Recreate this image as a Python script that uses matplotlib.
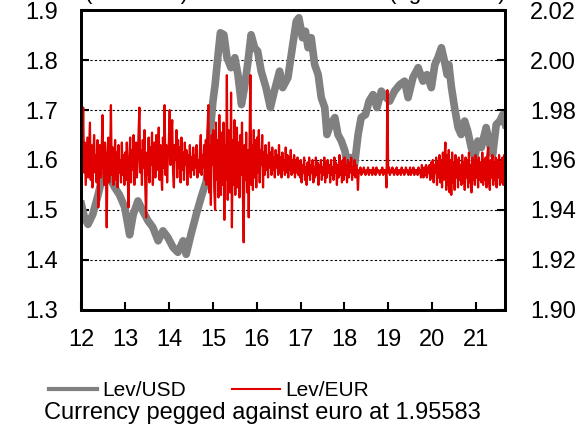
import pandas as pd
import matplotlib
matplotlib.use("Agg")
import matplotlib.pyplot as plt
from matplotlib.lines import Line2D

plt.rcParams["font.family"] = ["Liberation Sans", "DejaVu Sans"]

# Lev/USD (decimal year, rate) -> left scale
usd_year = [12.00, 12.07, 12.15, 12.26, 12.38, 12.49, 12.64, 12.76, 12.87, 12.99,
            13.10, 13.18, 13.29, 13.40, 13.52, 13.63, 13.75, 13.86, 13.97, 14.09,
            14.20, 14.32, 14.39, 14.50, 14.62, 14.73, 14.85, 14.92, 15.00, 15.05,
            15.11, 15.17, 15.25, 15.32, 15.41, 15.50, 15.57, 15.65, 15.72, 15.80,
            15.87, 15.95, 16.02, 16.10, 16.21, 16.31, 16.40, 16.52, 16.59, 16.71,
            16.82, 16.90, 16.96, 17.04, 17.11, 17.17, 17.24, 17.32, 17.40, 17.47,
            17.55, 17.60, 17.68, 17.78, 17.85, 17.93, 18.01, 18.06, 18.13, 18.23,
            18.31, 18.38, 18.48, 18.56, 18.65, 18.74, 18.84, 18.95, 19.03, 19.14,
            19.26, 19.37, 19.45, 19.56, 19.68, 19.79, 19.88, 19.98, 20.06, 20.13,
            20.21, 20.28, 20.34, 20.38, 20.44, 20.51, 20.59, 20.66, 20.74, 20.81,
            20.89, 20.97, 21.04, 21.12, 21.23, 21.31, 21.38, 21.46, 21.54, 21.61,
            21.67]
usd_rate = [1.511, 1.485, 1.471, 1.491, 1.530, 1.570, 1.565, 1.545, 1.530, 1.505,
            1.450, 1.490, 1.518, 1.498, 1.478, 1.465, 1.438, 1.458, 1.445, 1.425,
            1.415, 1.438, 1.411, 1.451, 1.491, 1.525, 1.558, 1.638, 1.718, 1.751,
            1.805, 1.855, 1.851, 1.805, 1.785, 1.805, 1.771, 1.711, 1.745, 1.798,
            1.851, 1.825, 1.818, 1.778, 1.745, 1.705, 1.738, 1.778, 1.745, 1.765,
            1.831, 1.878, 1.885, 1.845, 1.858, 1.825, 1.845, 1.791, 1.771, 1.725,
            1.705, 1.651, 1.671, 1.685, 1.651, 1.638, 1.618, 1.591, 1.605, 1.591,
            1.651, 1.685, 1.691, 1.718, 1.731, 1.705, 1.738, 1.725, 1.718, 1.738,
            1.751, 1.758, 1.725, 1.765, 1.785, 1.758, 1.771, 1.745, 1.791, 1.805,
            1.825, 1.798, 1.771, 1.791, 1.745, 1.705, 1.665, 1.651, 1.678, 1.658,
            1.625, 1.605, 1.638, 1.625, 1.665, 1.631, 1.611, 1.671, 1.678, 1.691,
            1.671]

# Lev/EUR, weekly from the first week of 2012 -> right scale
eur_start = "2012-01-02"
eur_rate = [
    # 2012
    1.951, 1.963, 1.981, 1.955, 1.967, 1.950, 1.960, 1.969, 1.953, 1.964, 1.975, 1.952,
    1.966, 1.949, 1.961, 1.970, 1.955, 1.962, 1.951, 1.968, 1.941, 1.958, 1.966, 1.953,
    1.964, 1.978, 1.956, 1.950, 1.967, 1.958, 1.933, 1.962, 1.969, 1.951, 1.960, 1.982,
    1.954, 1.965, 1.950, 1.961, 1.968, 1.952, 1.963, 1.949, 1.966, 1.955, 1.960, 1.951,
    1.967, 1.954, 1.962, 1.950,
    # 2013
    1.963, 1.952, 1.967, 1.955, 1.941, 1.960, 1.969, 1.951, 1.964, 1.956, 1.970, 1.950,
    1.962, 1.967, 1.953, 1.959, 1.971, 1.981, 1.955, 1.964, 1.950, 1.968, 1.957, 1.972,
    1.949, 1.937, 1.963, 1.954, 1.969, 1.951, 1.965, 1.958, 1.971, 1.950, 1.962, 1.967,
    1.953, 1.970, 1.956, 1.961, 1.973, 1.952, 1.966, 1.955, 1.948, 1.969, 1.957, 1.982,
    1.954, 1.966, 1.951, 1.963,
    # 2014
    1.967, 1.980, 1.958, 1.970, 1.976, 1.955, 1.949, 1.966, 1.960, 1.972, 1.953, 1.968,
    1.957, 1.965, 1.951, 1.969, 1.956, 1.963, 1.952, 1.967, 1.958, 1.964, 1.950, 1.962,
    1.955, 1.966, 1.953, 1.961, 1.956, 1.965, 1.954, 1.962, 1.957, 1.966, 1.953, 1.960,
    1.955, 1.964, 1.970, 1.954, 1.962, 1.957, 1.966, 1.952, 1.968, 1.950, 1.972, 1.982,
    1.947, 1.966, 1.942, 1.970,
    # 2015
    1.958, 1.972, 1.948, 1.940, 1.975, 1.952, 1.968, 1.945, 1.978, 1.956, 1.946, 1.971,
    1.950, 1.975, 1.936, 1.966, 1.952, 1.994, 1.944, 1.972, 1.955, 1.947, 1.987, 1.933,
    1.968, 1.950, 1.976, 1.946, 1.963, 1.973, 1.949, 1.967, 1.945, 1.970, 1.954, 1.975,
    1.948, 1.927, 1.966, 1.952, 1.971, 1.947, 1.964, 1.937, 1.969, 1.994, 1.950, 1.966,
    1.948, 1.972, 1.953, 1.968,
    # 2016
    1.949, 1.969, 1.955, 1.972, 1.951, 1.964, 1.958, 1.970, 1.949, 1.963, 1.954, 1.966,
    1.956, 1.962, 1.953, 1.967, 1.957, 1.963, 1.954, 1.965, 1.956, 1.961, 1.953, 1.964,
    1.957, 1.962, 1.954, 1.966, 1.955, 1.961, 1.953, 1.963, 1.956, 1.960, 1.954, 1.965,
    1.955, 1.962, 1.953, 1.961, 1.956, 1.964, 1.954, 1.960, 1.955, 1.962, 1.953, 1.960,
    1.955, 1.961, 1.954, 1.959,
    # 2017
    1.953, 1.960, 1.951, 1.958, 1.955, 1.961, 1.952, 1.957, 1.950, 1.959, 1.954, 1.961,
    1.952, 1.958, 1.955, 1.960, 1.951, 1.957, 1.953, 1.961, 1.954, 1.959, 1.950, 1.958,
    1.955, 1.960, 1.952, 1.957, 1.954, 1.961, 1.951, 1.959, 1.953, 1.960, 1.955, 1.958,
    1.951, 1.960, 1.954, 1.957, 1.952, 1.961, 1.955, 1.959, 1.950, 1.958, 1.953, 1.962,
    1.954, 1.959, 1.951, 1.960,
    # 2018
    1.952, 1.961, 1.954, 1.958, 1.951, 1.960, 1.953, 1.959, 1.955, 1.961, 1.952, 1.957,
    1.954, 1.960, 1.953, 1.958, 1.955, 1.948, 1.956, 1.955, 1.957, 1.954, 1.956, 1.955,
    1.957, 1.955, 1.954, 1.956, 1.955, 1.957, 1.954, 1.956, 1.955, 1.956, 1.954, 1.957,
    1.955, 1.956, 1.954, 1.957, 1.955, 1.956, 1.955, 1.954, 1.956, 1.955, 1.957, 1.954,
    1.956, 1.955, 1.956, 1.949,
    # 2019
    1.988, 1.955, 1.957, 1.954, 1.956, 1.955, 1.957, 1.955, 1.954, 1.956, 1.955, 1.957,
    1.954, 1.956, 1.955, 1.956, 1.954, 1.957, 1.955, 1.956, 1.954, 1.955, 1.957, 1.955,
    1.956, 1.954, 1.955, 1.957, 1.954, 1.956, 1.955, 1.957, 1.954, 1.956, 1.955, 1.956,
    1.954, 1.957, 1.955, 1.956, 1.953, 1.958, 1.955, 1.953, 1.957, 1.954, 1.958, 1.953,
    1.957, 1.955, 1.958, 1.952,
    # 2020
    1.959, 1.953, 1.960, 1.951, 1.958, 1.955, 1.961, 1.950, 1.959, 1.953, 1.962, 1.951,
    1.960, 1.949, 1.963, 1.952, 1.961, 1.967, 1.948, 1.962, 1.950, 1.964, 1.947, 1.960,
    1.946, 1.963, 1.951, 1.959, 1.948, 1.962, 1.953, 1.960, 1.949, 1.961, 1.952, 1.958,
    1.950, 1.962, 1.951, 1.959, 1.948, 1.961, 1.953, 1.960, 1.949, 1.963, 1.951, 1.958,
    1.947, 1.961, 1.952, 1.959,
    # 2021
    1.950, 1.962, 1.953, 1.960, 1.949, 1.961, 1.952, 1.959, 1.951, 1.963, 1.950, 1.960,
    1.952, 1.961, 1.949, 1.962, 1.965, 1.951, 1.948, 1.960, 1.953, 1.962, 1.950, 1.959,
    1.952, 1.961, 1.949, 1.960, 1.953, 1.962, 1.950, 1.959, 1.951, 1.961, 1.950, 1.962,
    1.953,
]

year_ticks = [12, 13, 14, 15, 16, 17, 18, 19, 20, 21]
year_labels = ["12", "13", "14", "15", "16", "17", "18", "19", "20", "21"]
left_ticks = [1.3, 1.4, 1.5, 1.6, 1.7, 1.8, 1.9]
right_ticks = [1.90, 1.92, 1.94, 1.96, 1.98, 2.00, 2.02]
grid_levels = [1.4, 1.5, 1.6, 1.7, 1.8]

eur_dates = pd.date_range(eur_start, periods=len(eur_rate), freq="7D")
eur_year = eur_dates.year - 2000 + (eur_dates.dayofyear - 1) / 365.25

GRAY = "#808080"
RED = "#e00000"

fig = plt.figure(figsize=(5.83, 4.25), dpi=100)
ax = fig.add_axes([0.1396, 0.2713, 0.7266, 0.7045])
ax2 = ax.twinx()

for lv in grid_levels:
    ax.axhline(lv, color="black", lw=0.8, ls=(0, (2, 2)), zorder=1)

ax.plot(usd_year, usd_rate, color=GRAY, lw=5.5, solid_joinstyle="round", zorder=2)
ax2.plot(eur_year, eur_rate, color=RED, lw=1.6)

ax.set_xlim(12, 21.66)
ax.set_ylim(1.3, 1.9)
ax2.set_ylim(1.90, 2.02)

ax.set_xticks(year_ticks)
ax.set_xticklabels(year_labels)
ax.set_yticks(left_ticks)
ax.set_yticklabels([f"{v:.1f}" for v in left_ticks])
ax2.set_yticks(right_ticks)
ax2.set_yticklabels([f"{v:.2f}" for v in right_ticks])

for a in (ax, ax2):
    for s in a.spines.values():
        s.set_linewidth(2)
        s.set_color("black")
ax.tick_params(axis="both", direction="in", length=6, width=1.5, labelsize=17)
ax.tick_params(axis="y", pad=17)
ax.tick_params(axis="x", pad=14)
ax2.tick_params(axis="y", direction="in", length=6, width=1.5, labelsize=17, pad=18)

# axis titles sit mostly above the picture edge, as in the source
fig.text(137 / 583, 1 + 0.5 / 425, "(left scale)", ha="center", va="baseline", fontsize=16)
fig.text(447 / 583, 1 + 0.5 / 425, "(right scale)", ha="center", va="baseline", fontsize=16)

handles = [Line2D([], [], color=GRAY, lw=3), Line2D([], [], color=RED, lw=1.5)]
fig.legend(handles, ["Lev/USD", "Lev/EUR"], loc="center left",
           bbox_to_anchor=(49 / 583, 1 - 391 / 425), ncol=2, frameon=False,
           fontsize=15, handlelength=2.3, handletextpad=0.25, columnspacing=2.2,
           borderpad=0, borderaxespad=0)
fig.text(262 / 583, 1 - 413 / 425, "Currency pegged against euro at 1.95583",
         ha="center", va="center", fontsize=17)

fig.savefig("out.png", dpi=100)
